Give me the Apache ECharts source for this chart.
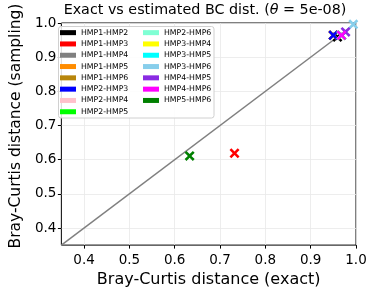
<!DOCTYPE html>
<html><head><meta charset="utf-8">
<script src="https://cdn.jsdelivr.net/npm/echarts@6/dist/echarts.min.js"></script>
<style>html,body{margin:0;padding:0;background:#fff}#c{width:374px;height:293px}</style>
</head><body><div id="c"></div>
<script>
const pairNames = ['HMP1-HMP2','HMP1-HMP3','HMP1-HMP4','HMP1-HMP5','HMP1-HMP6','HMP2-HMP3','HMP2-HMP4','HMP2-HMP5','HMP2-HMP6','HMP3-HMP4','HMP3-HMP5','HMP3-HMP6','HMP4-HMP5','HMP4-HMP6','HMP5-HMP6'];
const pairColors = ['#000000','#ff0000','#808080','#ff8c00','#b8860b','#0000ff','#ffc0cb','#00ff00','#7fffd4','#ffff00','#00ffff','#87ceeb','#8a2be2','#ff00ff','#008000'];
// exact BC distance per pair
const exactVals = [0.959,0.732,0.950,0.950,0.950,0.950,0.968,0.968,0.968,0.968,0.968,0.994,0.977,0.968,0.633];
// sampled BC distance per pair
const sampledVals = [0.959,0.619,0.964,0.964,0.964,0.964,0.964,0.964,0.964,0.964,0.964,0.996,0.974,0.964,0.611];
const tickVals = [0.4,0.5,0.6,0.7,0.8,0.9,1.0];
const diagLine = [[0.35,0.35],[1.0,1.0]];

const F = 'DejaVu Sans';
const xPath = 'path://M0,1.8L1.8,0L5,3.2L8.2,0L10,1.8L6.8,5L10,8.2L8.2,10L5,6.8L1.8,10L0,8.2L3.2,5Z';

const series = [{
  type:'line', data: diagLine, symbol:'none', silent:true,
  lineStyle:{color:'#808080', width:1.5}, z:1
}];
pairNames.forEach((n,i)=>{
  series.push({
    type:'scatter', name:n, data:[[exactVals[i], sampledVals[i]]],
    symbol:xPath, symbolSize:10, itemStyle:{color:pairColors[i], opacity:1}, z:2+i*0.01
  });
});

function axisCommon(){
  return {
    type:'value', min:0.35, max:1.0,
    axisLine:{show:false},
    axisTick:{show:true, inside:false, length:3.5, lineStyle:{color:'#000', width:1}, customValues:tickVals},
    axisLabel:{customValues:tickVals, fontFamily:F, fontSize:13.5, color:'#000', formatter:v=>v.toFixed(1)},
    splitLine:{show:true, lineStyle:{color:'#e8e8e8', width:0.8}},
    nameTextStyle:{fontFamily:F, fontSize:16, color:'#000'}
  };
}
const xa = axisCommon();
Object.assign(xa, {name:'Bray-Curtis distance (exact)', nameLocation:'middle', nameGap:23});
xa.axisLabel.margin = 8;
const ya = axisCommon();
Object.assign(ya, {name:'Bray-Curtis distance (sampling)', nameLocation:'middle', nameGap:32});
ya.nameTextStyle = {fontFamily:F, fontSize:15.5, color:'#000', padding:[0,0,0,16]};
ya.axisLabel.margin = 5;

const legendBase = {
  orient:'vertical', icon:'rect', itemWidth:16, itemHeight:5, itemGap:0,
  itemStyle:{opacity:1},
  textStyle:{fontFamily:F, fontSize:7.8, color:'#000', lineHeight:11.3},
  padding:0, selectedMode:false
};

const chart = echarts.init(document.getElementById('c'), null, {renderer:'canvas'});
chart.setOption({
  animation:false,
  backgroundColor:'#fff',
  title:{
    text:'Exact vs estimated BC dist. ({i|θ} = 5e-08)',
    left:205, top:3, textAlign:'center', padding:0,
    textStyle:{fontFamily:F, fontSize:14.3, fontWeight:'normal', color:'#000',
      rich:{i:{fontFamily:F, fontStyle:'italic', fontSize:14.3}}}
  },
  grid:{left:54, right:18, top:23, bottom:46, show:true, borderColor:'#000', borderWidth:1, backgroundColor:'transparent'},
  xAxis: xa,
  yAxis: ya,
  graphic:[{type:'rect', shape:{x:58.5, y:26.5, width:155.5, height:91.5, r:2.5},
    style:{fill:'rgba(255,255,255,0.85)', stroke:'#d0d0d0', lineWidth:1}, z:3, silent:true}],
  legend:[
    Object.assign({}, legendBase, {left:60, top:27, data:pairNames.slice(0,8), z:5}),
    Object.assign({}, legendBase, {left:143, top:27, data:pairNames.slice(8), z:5})
  ],
  series: series
});
</script></body></html>
